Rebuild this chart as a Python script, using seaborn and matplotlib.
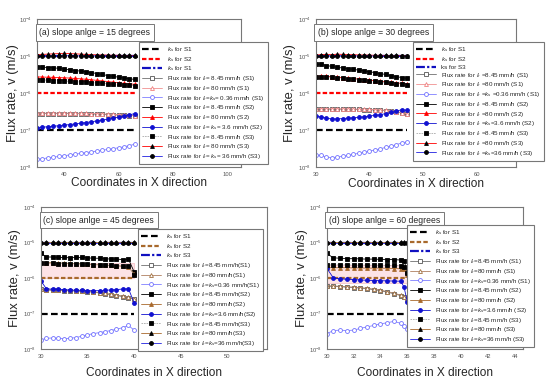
import matplotlib
matplotlib.use('Agg')
import numpy as np
import pandas as pd
import seaborn as sns
import matplotlib.pyplot as plt
from matplotlib.ticker import LogLocator, LogFormatterSciNotation, NullLocator, FixedLocator

# saturated hydraulic conductivity of each soil (m/s)
ks_s1 = 1e-7
ks_s2 = 1e-6
ks_s3 = 1e-5

# ---- (a) slope 15 degrees ----
xa = [30, 32, 34, 36, 38, 40, 42, 44, 46, 48, 50, 52, 54, 56, 58, 60, 62, 64, 66]
a_s1_845 = [2.80e-7, 2.80e-7, 2.81e-7, 2.81e-7, 2.80e-7, 2.80e-7, 2.80e-7, 2.79e-7, 2.78e-7, 2.76e-7,
            2.74e-7, 2.71e-7, 2.68e-7, 2.64e-7, 2.60e-7, 2.56e-7, 2.52e-7, 2.48e-7, 2.45e-7]
a_s1_80 = [2.88e-7, 2.88e-7, 2.88e-7, 2.88e-7, 2.88e-7, 2.88e-7, 2.87e-7, 2.86e-7, 2.85e-7, 2.83e-7,
           2.81e-7, 2.78e-7, 2.75e-7, 2.71e-7, 2.67e-7, 2.62e-7, 2.57e-7, 2.52e-7, 2.48e-7]
a_s1_036 = [1.60e-8, 1.68e-8, 1.76e-8, 1.84e-8, 1.93e-8, 2.02e-8, 2.12e-8, 2.22e-8, 2.33e-8, 2.45e-8,
            2.57e-8, 2.70e-8, 2.84e-8, 2.98e-8, 3.14e-8, 3.32e-8, 3.52e-8, 3.80e-8, 4.15e-8]
a_s2_845 = [5.20e-6, 5.05e-6, 4.95e-6, 4.85e-6, 4.70e-6, 4.50e-6, 4.30e-6, 4.10e-6, 3.95e-6, 3.80e-6,
            3.60e-6, 3.40e-6, 3.20e-6, 3.00e-6, 2.85e-6, 2.70e-6, 2.55e-6, 2.45e-6, 2.35e-6]
a_s2_80 = [2.75e-6, 2.73e-6, 2.70e-6, 2.68e-6, 2.64e-6, 2.60e-6, 2.56e-6, 2.50e-6, 2.44e-6, 2.38e-6,
           2.30e-6, 2.22e-6, 2.14e-6, 2.06e-6, 1.98e-6, 1.90e-6, 1.84e-6, 1.78e-6, 1.74e-6]
a_s2_36 = [1.17e-7, 1.20e-7, 1.23e-7, 1.27e-7, 1.31e-7, 1.36e-7, 1.41e-7, 1.47e-7, 1.53e-7, 1.60e-7,
           1.68e-7, 1.77e-7, 1.87e-7, 1.98e-7, 2.10e-7, 2.25e-7, 2.42e-7, 2.60e-7, 2.80e-7]
a_s3_845 = [2.30e-6, 2.27e-6, 2.24e-6, 2.20e-6, 2.16e-6, 2.12e-6, 2.08e-6, 2.04e-6, 2.00e-6, 1.96e-6,
            1.92e-6, 1.88e-6, 1.84e-6, 1.80e-6, 1.76e-6, 1.72e-6, 1.68e-6, 1.64e-6, 1.60e-6]
a_s3_80 = [1.10e-5, 1.12e-5, 1.14e-5, 1.16e-5, 1.18e-5, 1.19e-5, 1.18e-5, 1.16e-5, 1.14e-5, 1.12e-5,
           1.10e-5, 1.09e-5, 1.08e-5, 1.07e-5, 1.06e-5, 1.06e-5, 1.05e-5, 1.05e-5, 1.05e-5]
a_s3_36 = [1.02e-5, 1.02e-5, 1.03e-5, 1.03e-5, 1.03e-5, 1.03e-5, 1.03e-5, 1.02e-5, 1.02e-5, 1.02e-5,
           1.02e-5, 1.02e-5, 1.02e-5, 1.01e-5, 1.01e-5, 1.01e-5, 1.01e-5, 1.01e-5, 1.01e-5]

# ---- (b) slope 30 degrees ----
xb = [30, 31, 32, 33, 34, 35, 36, 37, 38, 39, 40, 41, 42, 43, 44, 45, 46, 47]
b_s1_845 = [3.70e-7, 3.70e-7, 3.70e-7, 3.70e-7, 3.70e-7, 3.68e-7, 3.66e-7, 3.64e-7, 3.62e-7,
            3.60e-7, 3.56e-7, 3.52e-7, 3.46e-7, 3.38e-7, 3.28e-7, 3.12e-7, 2.92e-7, 2.70e-7]
b_s1_80 = [3.78e-7, 3.78e-7, 3.78e-7, 3.78e-7, 3.77e-7, 3.75e-7, 3.73e-7, 3.71e-7, 3.69e-7,
           3.66e-7, 3.62e-7, 3.58e-7, 3.52e-7, 3.44e-7, 3.34e-7, 3.18e-7, 2.98e-7, 2.76e-7]
b_s1_036 = [2.10e-8, 2.05e-8, 1.85e-8, 1.80e-8, 1.85e-8, 1.95e-8, 2.05e-8, 2.20e-8, 2.35e-8,
            2.50e-8, 2.70e-8, 2.90e-8, 3.10e-8, 3.40e-8, 3.70e-8, 4.00e-8, 4.50e-8, 4.80e-8]
b_s2_845 = [6.00e-6, 6.10e-6, 5.60e-6, 5.30e-6, 5.00e-6, 4.80e-6, 4.60e-6, 4.40e-6, 4.20e-6,
            4.00e-6, 3.80e-6, 3.60e-6, 3.40e-6, 3.20e-6, 3.00e-6, 2.80e-6, 2.65e-6, 2.50e-6]
b_s2_80 = [2.90e-6, 2.90e-6, 2.85e-6, 2.78e-6, 2.70e-6, 2.62e-6, 2.55e-6, 2.48e-6, 2.40e-6,
           2.32e-6, 2.25e-6, 2.18e-6, 2.10e-6, 2.03e-6, 1.96e-6, 1.90e-6, 1.83e-6, 1.78e-6]
b_s2_36 = [2.35e-7, 2.30e-7, 2.10e-7, 2.00e-7, 2.00e-7, 2.05e-7, 2.10e-7, 2.15e-7, 2.20e-7,
           2.30e-7, 2.40e-7, 2.50e-7, 2.60e-7, 2.80e-7, 3.00e-7, 3.20e-7, 3.60e-7, 3.40e-7]
b_s3_845 = [2.80e-6, 2.80e-6, 2.75e-6, 2.68e-6, 2.60e-6, 2.52e-6, 2.45e-6, 2.38e-6, 2.30e-6,
            2.23e-6, 2.16e-6, 2.09e-6, 2.02e-6, 1.95e-6, 1.88e-6, 1.82e-6, 1.76e-6, 1.70e-6]
b_s3_80 = [1.08e-5, 1.10e-5, 1.12e-5, 1.10e-5, 1.14e-5, 1.12e-5, 1.10e-5, 1.10e-5, 1.08e-5,
           1.08e-5, 1.07e-5, 1.06e-5, 1.06e-5, 1.05e-5, 1.05e-5, 1.05e-5, 1.04e-5, 1.04e-5]
b_s3_36 = [1.02e-5, 1.02e-5, 1.02e-5, 1.02e-5, 1.03e-5, 1.02e-5, 1.02e-5, 1.02e-5, 1.01e-5,
           1.01e-5, 1.01e-5, 1.01e-5, 1.01e-5, 1.01e-5, 1.01e-5, 1.01e-5, 1.01e-5, 1.01e-5]

# ---- (c) slope 45 degrees ----
xc = [30, 30.6, 31.3, 31.9, 32.5, 33.1, 33.8, 34.4, 35, 35.6, 36.3, 36.9, 37.5, 38.1, 38.8, 39.4, 40]
c_s1_845 = [4.80e-7, 4.60e-7, 4.50e-7, 4.45e-7, 4.40e-7, 4.35e-7, 4.30e-7, 4.20e-7, 4.10e-7,
            4.00e-7, 3.80e-7, 3.60e-7, 3.40e-7, 3.20e-7, 3.00e-7, 2.75e-7, 2.55e-7]
c_s1_80 = [4.90e-7, 4.70e-7, 4.60e-7, 4.55e-7, 4.50e-7, 4.45e-7, 4.40e-7, 4.30e-7, 4.20e-7,
           4.10e-7, 3.90e-7, 3.70e-7, 3.50e-7, 3.30e-7, 3.10e-7, 2.85e-7, 2.62e-7]
c_s1_036 = [1.80e-8, 2.00e-8, 2.05e-8, 2.00e-8, 1.95e-8, 2.00e-8, 2.10e-8, 2.30e-8, 2.50e-8,
            2.70e-8, 2.90e-8, 3.10e-8, 3.30e-8, 3.60e-8, 4.00e-8, 4.60e-8, 3.40e-8]
c_s2_845 = [5.10e-6, 3.90e-6, 3.90e-6, 3.80e-6, 3.80e-6, 3.70e-6, 3.80e-6, 3.80e-6, 3.70e-6,
            3.60e-6, 3.60e-6, 3.50e-6, 3.40e-6, 3.40e-6, 3.30e-6, 3.40e-6, 1.50e-6]
c_s2_80 = [2.75e-6, 2.70e-6, 2.68e-6, 2.65e-6, 2.62e-6, 2.58e-6, 2.55e-6, 2.50e-6, 2.45e-6,
           2.40e-6, 2.35e-6, 2.30e-6, 2.25e-6, 2.20e-6, 2.15e-6, 2.05e-6, 1.30e-6]
c_s2_36 = [8.50e-7, 5.00e-7, 4.80e-7, 4.80e-7, 4.70e-7, 4.60e-7, 4.50e-7, 4.50e-7, 4.40e-7,
           4.40e-7, 4.40e-7, 4.50e-7, 4.60e-7, 4.70e-7, 4.90e-7, 5.00e-7, 2.00e-7]
c_s3_845 = [2.60e-6, 2.60e-6, 2.58e-6, 2.56e-6, 2.54e-6, 2.50e-6, 2.48e-6, 2.45e-6, 2.42e-6,
            2.38e-6, 2.34e-6, 2.30e-6, 2.26e-6, 2.22e-6, 2.18e-6, 2.12e-6, 1.25e-6]
c_s3_80 = [1.02e-5, 1.02e-5, 1.02e-5, 1.02e-5, 1.02e-5, 1.02e-5, 1.02e-5, 1.02e-5, 1.02e-5,
           1.02e-5, 1.02e-5, 1.02e-5, 1.02e-5, 1.02e-5, 1.02e-5, 1.02e-5, 1.02e-5]
c_s3_36 = [1.00e-5, 1.00e-5, 1.00e-5, 1.00e-5, 1.00e-5, 1.00e-5, 1.00e-5, 1.00e-5, 1.00e-5,
           1.00e-5, 1.00e-5, 1.00e-5, 1.00e-5, 1.00e-5, 1.00e-5, 1.00e-5, 1.00e-5]
c_band = [1.0e-6, 2.7e-6]

# ---- (d) slope 60 degrees ----
xd = [30, 30.5, 31, 31.5, 32, 32.5, 33, 33.5, 34, 34.5, 35, 35.5, 35.75, 36]
d_s1_845 = [5.90e-7, 5.80e-7, 5.70e-7, 5.50e-7, 5.40e-7, 5.20e-7, 5.00e-7, 4.70e-7, 4.40e-7,
            4.00e-7, 3.60e-7, 3.20e-7, 2.90e-7, 2.60e-7]
d_s1_80 = [6.05e-7, 5.95e-7, 5.85e-7, 5.65e-7, 5.55e-7, 5.35e-7, 5.15e-7, 4.85e-7, 4.55e-7,
           4.15e-7, 3.75e-7, 3.30e-7, 3.00e-7, 2.70e-7]
d_s1_036 = [2.70e-8, 3.30e-8, 3.40e-8, 3.30e-8, 3.40e-8, 3.80e-8, 4.20e-8, 4.60e-8, 5.10e-8,
            5.50e-8, 6.00e-8, 5.30e-8, 4.50e-8, 3.70e-8]
d_s2_845 = [4.90e-6, 3.70e-6, 3.60e-6, 3.50e-6, 3.50e-6, 3.45e-6, 3.40e-6, 3.40e-6, 3.35e-6,
            3.30e-6, 3.30e-6, 3.20e-6, 3.10e-6, 1.50e-6]
d_s2_80 = [1.95e-6, 1.95e-6, 1.95e-6, 1.95e-6, 1.92e-6, 1.92e-6, 1.90e-6, 1.90e-6, 1.90e-6,
           1.88e-6, 1.85e-6, 1.82e-6, 1.75e-6, 1.20e-6]
d_s2_36 = [1.90e-6, 1.00e-6, 9.50e-7, 9.20e-7, 9.00e-7, 8.80e-7, 8.60e-7, 8.50e-7, 8.40e-7,
           8.30e-7, 8.20e-7, 8.10e-7, 5.60e-7, 2.10e-7]
d_s3_845 = [2.35e-6, 2.35e-6, 2.35e-6, 2.35e-6, 2.30e-6, 2.30e-6, 2.30e-6, 2.30e-6, 2.28e-6,
            2.25e-6, 2.25e-6, 2.20e-6, 2.10e-6, 1.40e-6]
d_s3_80 = [1.02e-5, 1.02e-5, 1.02e-5, 1.02e-5, 1.02e-5, 1.02e-5, 1.02e-5, 1.02e-5, 1.02e-5,
           1.02e-5, 1.02e-5, 1.02e-5, 1.02e-5, 1.02e-5]
d_s3_36 = [1.00e-5, 1.00e-5, 1.00e-5, 1.00e-5, 1.00e-5, 1.00e-5, 1.00e-5, 1.00e-5, 1.00e-5,
           1.00e-5, 1.00e-5, 1.00e-5, 1.00e-5, 1.00e-5]
d_band = [7.0e-7, 2.4e-6]

# legend labels
labels_a = [r'$k_s$ for S1', r'$k_s$ for S2', r'$k_s$ for S1',
            r'Flux rate for $I_r$= 8.45 mm/h (S1)', r'Flux rate for $I_r$= 80 mm/h (S1)',
            r'Flux rate for $I_r$=$k_s$= 0.36 mm/h (S1)', r'Flux rate for $I_r$= 8.45 mm/h (S2)',
            r'Flux rate for $I_r$= 80 mm/h (S2)', r'Flux rate for $I_r$= $k_s$= 3.6 mm/h (S2)',
            r'Flux rate for $I_r$= 8.45 mm/h (S3)', r'Flux rate for $I_r$= 80 mm/h (S3)',
            r'Flux rate for $I_r$= $k_s$= 36 mm/h (S3)']
labels_b = [r'$k_s$ for S1', r'$k_s$ for S2', 'ks for S3',
            r'Flux rate for $I_r$ =8.45 mm/h (S1)', r'Flux rate for $I_r$ =80 mm/h (S1)',
            r'Flux rate for $I_r$ =$k_s$ =0.36 mm/h (S1)', r'Flux rate for $I_r$ =8.45 mm/h (S2)',
            r'Flux rate for $I_r$ =80 mm/h (S2)', r'Flux rate for $I_r$ =$k_s$=3.6 mm/h (S2)',
            r'Flux rate for $I_r$ =8.45 mm/h (S3)', r'Flux rate for $I_r$ =80 mm/h (S3)',
            r'Flux rate for $I_r$ =$k_s$=36 mm/h (S3)']
labels_c = [r'$k_s$ for S1', r'$k_s$ for S2', r'$k_s$ for S3',
            r'Flux rate for $I_r$=8.45 mm/h(S1)', r'Flux rate for $I_r$=80 mm/h(S1)',
            r'Flux rate for $I_r$=$k_s$=0.36 mm/h(S1)', r'Flux rate for $I_r$=8.45 mm/h(S2)',
            r'Flux rate for $I_r$=80 mm/h(S2)', r'Flux rate for $I_r$=$k_s$=3.6 mm/h(S2)',
            r'Flux rate for $I_r$=8.45 mm/h(S3)', r'Flux rate for $I_r$=80 mm/h(S3)',
            r'Flux rate for $I_r$=$k_s$=36 mm/h(S3)']
labels_d = [r'$k_s$ for S1', r'$k_s$ for S2', r'$k_s$ for S3',
            r'Flux rate for $I_r$=8.45 mm/h (S1)', r'Flux rate for $I_r$=80 mm/h (S1)',
            r'Flux rate for $I_r$=$k_s$=0.36 mm/h (S1)', r'Flux rate for $I_r$=8.45 mm/h (S2)',
            r'Flux rate for $I_r$=80 mm/h (S2)', r'Flux rate for $I_r$=$k_s$=3.6 mm/h (S2)',
            r'Flux rate for $I_r$=8.45 mm/h (S3)', r'Flux rate for $I_r$=80 mm/h (S3)',
            r'Flux rate for $I_r$=$k_s$=36 mm/h (S3)']

titles = ['(a) slope anlge = 15 degrees', '(b) slope anlge = 30 degrees',
          '(c) slope anlge = 45 degrees', '(d) slope anlge = 60 degrees']
xticks_a = [40, 60, 80, 100]
xticks_b = [30, 40, 50, 60]
xticks_c = [30, 35, 40, 45, 50]
xticks_d = [30, 32, 34, 36, 38, 40, 42, 44]


def styles(c80):
    # one entry per legend row: (color, linestyle, lw, marker, face, edge)
    return [
        ('black', (0, (3, 1.5)), 1.6, None, None, None),
        (c80, (0, (2, 1)), 1.6, None, None, None),
        ('#1010c0', (0, (4, 1, 1, 1)), 1.6, None, None, None),
        ('#707070', '-', 0.6, 's', 'white', '#555555'),
        ('#f09090' if c80 == 'red' else '#b08060', '-', 0.6, '^', 'white',
         '#f08080' if c80 == 'red' else '#a07040'),
        ('#8080ff', '-', 0.6, 'o', 'white', '#7070ff'),
        ('black', '-', 0.6, 's', 'black', 'black'),
        (c80, '-', 0.6, '^', c80, c80),
        ('#1010d0', '-', 0.6, 'o', '#1010d0', '#1010d0'),
        ('#aaaaaa', (0, (2, 1)), 0.6, 's', 'black', 'black'),
        (c80, '-', 0.6, '^', 'black', 'black'),
        ('#2020e0', '-', 0.6, 'o', 'black', 'black'),
    ]


def draw_panel(ax, x, series, labels, c80, title, xlim, xticks, leg_anchor,
               ylab_x, xlab_y, band=None):
    if band is not None:
        ax.fill_between([x[0], x[-1]], [band[0], band[0]], [band[1], band[1]],
                        color='#fde3e6', lw=0.4, edgecolor='#f4b0b8', zorder=0)
    ks_vals = [ks_s1, ks_s2, ks_s3]
    ys = [[k, k] for k in ks_vals] + series
    st = styles(c80)
    for i, (y, lab) in enumerate(zip(ys, labels)):
        col, ls, lw, mk, mfc, mec = st[i]
        xx = [x[0], x[-1]] if i < 3 else x
        df = pd.DataFrame({'x': xx, 'y': y})
        kw = dict(color=col, linestyle=ls, lw=lw, label=lab, estimator=None, errorbar=None, ax=ax)
        if mk:
            kw.update(marker=mk, markersize=2.8, markerfacecolor=mfc, markeredgecolor=mec,
                      markeredgewidth=0.6)
        sns.lineplot(data=df, x='x', y='y', **kw)

    ax.set_yscale('log')
    ax.set_ylim(1e-8, 1e-4)
    ax.set_xlim(*xlim)
    ax.xaxis.set_major_locator(FixedLocator(xticks))
    ax.yaxis.set_major_locator(LogLocator(base=10, numticks=10))
    ax.yaxis.set_major_formatter(LogFormatterSciNotation())
    ax.yaxis.set_minor_locator(NullLocator())
    ax.tick_params(labelsize=4.2, colors='#555555', length=2, width=0.5, pad=1.5)
    for s in ax.spines.values():
        s.set_color('#777777')
        s.set_linewidth(0.8)
    ax.set_xlabel('Coordinates in X direction', fontsize=8.6)
    ax.set_ylabel('Flux rate, v (m/s)', fontsize=9.4)
    ax.yaxis.set_label_coords(ylab_x, 0.5)
    ax.xaxis.set_label_coords(0.5, xlab_y)

    ax.text(0.012, 0.94, title, transform=ax.transAxes, fontsize=6.2, va='top', ha='left',
            bbox=dict(boxstyle='square,pad=0.45', fc='white', ec='#777777', lw=0.7))

    h, l = ax.get_legend_handles_labels()
    leg = ax.legend(h, l, loc='upper left', bbox_to_anchor=leg_anchor, bbox_transform=ax.transAxes,
                    fontsize=4.5, frameon=True, fancybox=False, edgecolor='#777777', framealpha=1,
                    borderpad=0.5, labelspacing=0.12, handlelength=3.2, handletextpad=0.8,
                    borderaxespad=0)
    leg.get_frame().set_linewidth(0.8)


sns.set_style('white')
plt.rcParams['font.family'] = ['Liberation Sans', 'DejaVu Sans']
plt.rcParams['mathtext.fontset'] = 'custom'
plt.rcParams['mathtext.rm'] = 'Liberation Sans'
plt.rcParams['mathtext.it'] = 'Liberation Sans:italic'

fig = plt.figure(figsize=(5.5, 3.84), dpi=100)
ax_a = fig.add_axes([37 / 550, 1 - 167 / 384, 204 / 550, 147.7 / 384])
ax_b = fig.add_axes([315.7 / 550, 1 - 167 / 384, 200 / 550, 147.7 / 384])
ax_c = fig.add_axes([40.7 / 550, 1 - 349 / 384, 226 / 550, 142 / 384])
ax_d = fig.add_axes([326.7 / 550, 1 - 349 / 384, 196.3 / 550, 142 / 384])

draw_panel(ax_a, xa, [a_s1_845, a_s1_80, a_s1_036, a_s2_845, a_s2_80, a_s2_36,
                      a_s3_845, a_s3_80, a_s3_36],
           labels_a, 'red', titles[0], (30, 105), xticks_a, (0.5, 0.846), -0.09, -0.07)
draw_panel(ax_b, xb, [b_s1_845, b_s1_80, b_s1_036, b_s2_845, b_s2_80, b_s2_36,
                      b_s3_845, b_s3_80, b_s3_36],
           labels_b, 'red', titles[1], (30, 67.2), xticks_b, (0.487, 0.846), -0.096, -0.075)
draw_panel(ax_c, xc, [c_s1_845, c_s1_80, c_s1_036, c_s2_845, c_s2_80, c_s2_36,
                      c_s3_845, c_s3_80, c_s3_36],
           labels_c, '#a8692c', titles[2], (30, 54.2), xticks_c, (0.43, 0.845), -0.085, -0.127,
           band=c_band)
draw_panel(ax_d, xd, [d_s1_845, d_s1_80, d_s1_036, d_s2_845, d_s2_80, d_s2_36,
                      d_s3_845, d_s3_80, d_s3_36],
           labels_d, '#a8692c', titles[3], (30, 44.6), xticks_d, (0.409, 0.873), -0.095, -0.127,
           band=d_band)

fig.savefig('out.png', dpi=100)
